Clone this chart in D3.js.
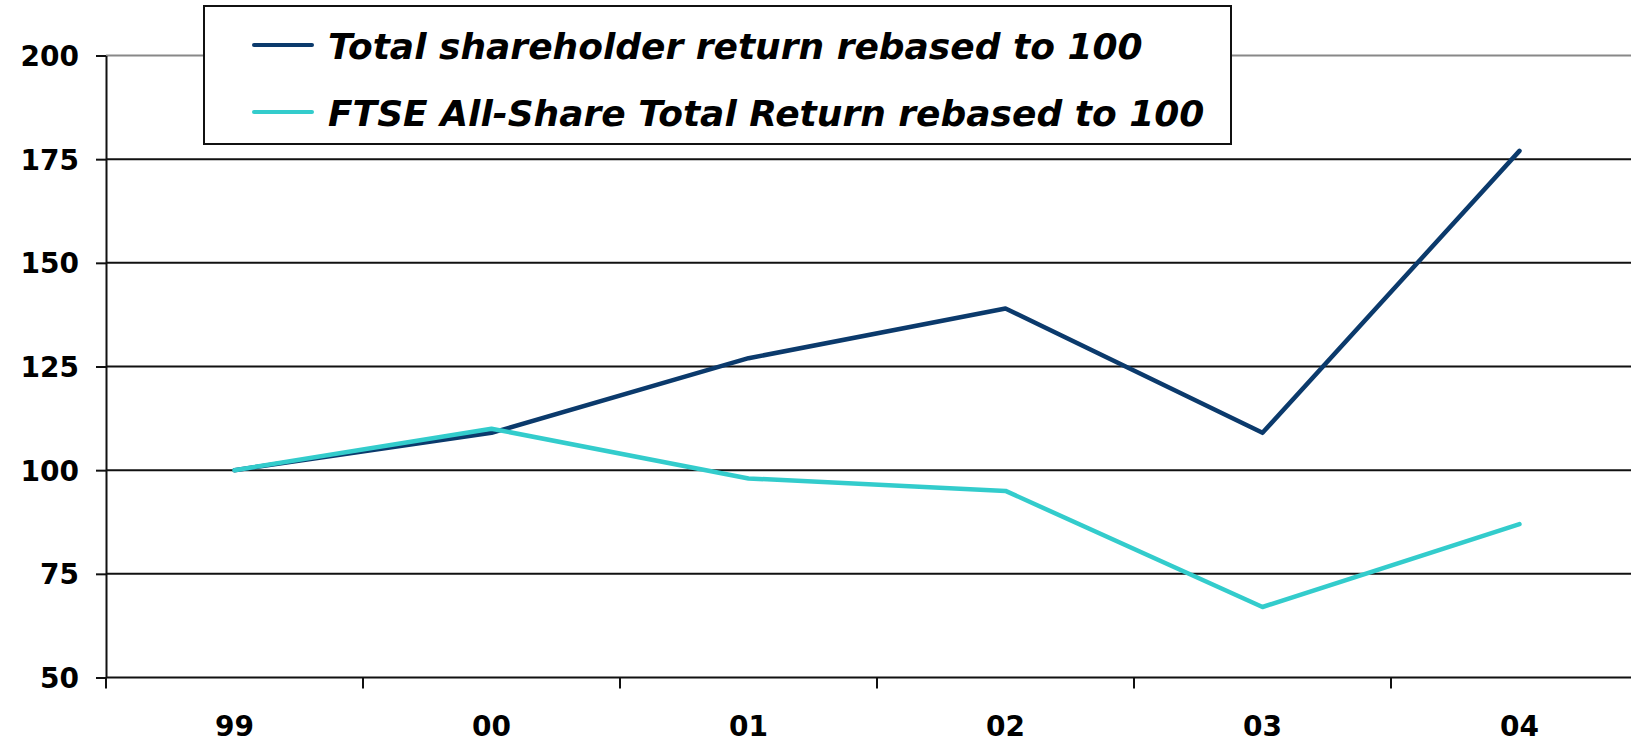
<!DOCTYPE html>
<html lang="en">
<head>
  <meta charset="UTF-8">
  <title>Total shareholder return</title>
  <script src="https://d3js.org/d3.v7.min.js"></script>
</head>
<style>
  body { margin: 0; background: white; }
  .tick text, .label { font-family: "DejaVu Sans", Verdana, sans-serif; font-weight: bold; fill: black; }
  .legend text { font-family: "DejaVu Sans", Verdana, sans-serif; font-weight: bold; font-style: italic; }
</style>
<body>
<svg id="chart" width="1631" height="743"></svg>

<script>
  // values
  const years = ["99", "00", "01", "02", "03", "04"];
  const shareholderReturn = [100, 109, 127, 139, 109, 177];
  const ftseReturn = [100, 110, 98, 95, 67, 87];
  const yTicks = [50, 75, 100, 125, 150, 175, 200];
  const seriesNames = ["Total shareholder return rebased to 100", "FTSE All-Share Total Return rebased to 100"];
  const seriesColors = ["#0b3a6c", "#33cccc"];

  let svg = d3.select("#chart");

  let plotLeft = 106, plotTop = 55.5, plotBottom = 677.5, band = 257;

  let x = d3.scaleBand().domain(years).range([plotLeft, plotLeft + band * years.length]);
  let y = d3.scaleLinear().domain([50, 200]).range([plotBottom, plotTop]);

  // gridlines
  svg.append("g")
    .selectAll("line")
    .data(yTicks.filter(d => d > 50))
    .join("line")
    .attr("x1", plotLeft).attr("x2", 1631)
    .attr("y1", d => y(d)).attr("y2", d => y(d))
    .attr("stroke", d => d == 200 ? "#888" : "#111")
    .attr("stroke-width", 2);

  // y axis
  let yAxis = svg.append("g")
    .attr("transform", `translate(${plotLeft},0)`)
    .call(d3.axisLeft(y).tickValues(yTicks).tickSize(10).tickSizeOuter(0).tickPadding(17));
  yAxis.select(".domain").attr("stroke", "#111").attr("stroke-width", 2);
  yAxis.selectAll(".tick line").attr("stroke", "#111").attr("stroke-width", 2);
  yAxis.selectAll(".tick text").style("font-size", "28px").attr("dy", "0.36em");

  // x axis: boundary ticks between the years, labels centred in each band
  let xAxis = svg.append("g").attr("transform", `translate(0,${plotBottom})`);
  xAxis.append("line")
    .attr("x1", plotLeft).attr("x2", 1631)
    .attr("stroke", "#111").attr("stroke-width", 2);
  xAxis.selectAll(".bt")
    .data(years)
    .join("line")
    .attr("class", "bt")
    .attr("x1", d => x(d)).attr("x2", d => x(d))
    .attr("y1", 0).attr("y2", 11)
    .attr("stroke", "#111").attr("stroke-width", 2);
  xAxis.selectAll(".label")
    .data(years)
    .join("text")
    .attr("class", "label")
    .attr("x", d => x(d) + x.bandwidth() / 2)
    .attr("y", 58)
    .attr("text-anchor", "middle")
    .style("font-size", "28px")
    .text(d => d);

  // lines
  let line = d3.line()
    .x((d, i) => x(years[i]) + x.bandwidth() / 2)
    .y(d => y(d));

  [shareholderReturn, ftseReturn].forEach((s, i) => {
    svg.append("path")
      .datum(s)
      .attr("fill", "none")
      .attr("stroke", seriesColors[i])
      .attr("stroke-width", 4.5)
      .attr("stroke-linejoin", "round")
      .attr("stroke-linecap", "round")
      .attr("d", line);
  });

  // legend
  let legend = svg.append("g").attr("class", "legend");
  legend.append("rect")
    .attr("x", 204).attr("y", 6)
    .attr("width", 1027).attr("height", 138)
    .attr("fill", "white").attr("stroke", "#111").attr("stroke-width", 2);
  seriesNames.forEach((name, i) => {
    let ly = 45 + i * 67;
    legend.append("line")
      .attr("x1", 254).attr("x2", 312)
      .attr("y1", ly).attr("y2", ly)
      .attr("stroke", seriesColors[i])
      .attr("stroke-width", 4)
      .attr("stroke-linecap", "round");
    legend.append("text")
      .attr("x", 328).attr("y", ly + 14)
      .style("font-size", "36px")
      .text(name);
  });
</script>
</body>
</html>
